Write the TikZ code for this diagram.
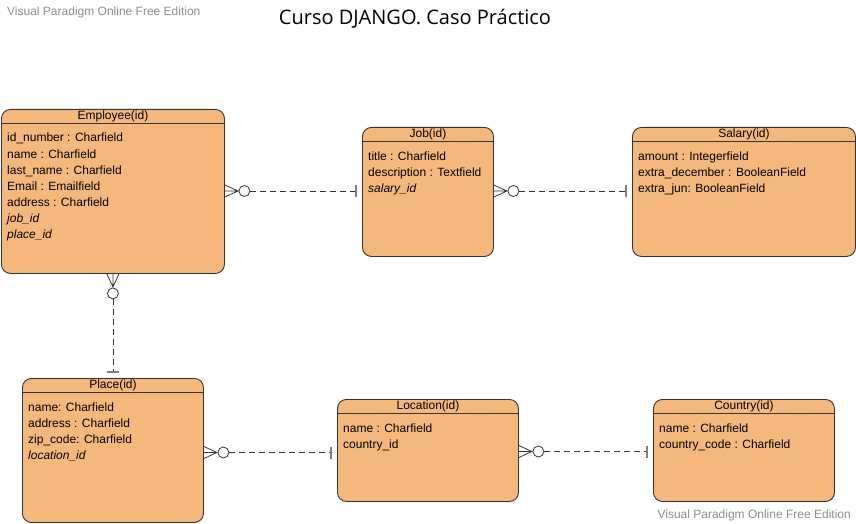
\documentclass[tikz,border=0pt]{standalone}
\usepackage{fontspec}
\setmainfont{Liberation Sans}
\newfontfamily\titlefont{Open Sans}
\usetikzlibrary{calc}

\definecolor{entfill}{RGB}{245,184,124}
\definecolor{linecol}{RGB}{51,51,51}
\definecolor{bargray}{RGB}{128,128,128}
\definecolor{markgray}{RGB}{140,140,140}

\newcommand{\erfont}{\fontsize{12}{14}\selectfont}
% fields of an entity, one per row
\newcommand{\entfields}[2]{%
  \foreach \t [count=\i] in {#2}
    \node[field] (#1f\i) at ([xshift=6pt,yshift={-(17+16*\i)}]#1.north west) {\t};}
% header band of an entity
\newcommand{\enthead}[2]{%
  \draw[linecol, line width=0.9pt] ([yshift=-14pt]#1.north west) -- ([yshift=-14pt]#1.north east);
  \node[head] (#1h) at ([yshift=-7.5pt]#1.north) {#2};}

\tikzset{
  entity/.style={draw=linecol, fill=entfill, line width=0.9pt, rounded corners=9pt,
    anchor=north west, inner sep=0pt},
  head/.style={font=\erfont, inner sep=0pt},
  field/.style={font=\erfont, anchor=base west, inner sep=0pt},
  rel/.style={draw=linecol, line width=0.8pt, dash pattern=on 6pt off 4pt},
  manyzero/.pic={
    \draw[linecol, line width=0.8pt] (0,-6) -- (13,0) -- (0,6) (0,0) -- (13,0);
    \draw[linecol, fill=white, line width=0.8pt] (19.5,0) circle[radius=5.5pt];},
  onebar/.pic={\draw[bargray, line width=1.6pt] (-6,-6) -- (-6,6);},
  watermark/.style={font=\erfont, text=markgray, inner sep=0pt}
}

\begin{document}
\begin{tikzpicture}[x=1pt, y=-1pt]
  \useasboundingbox (0,0) rectangle (856,524);

  \node[font=\titlefont\fontsize{20}{24}\selectfont, inner sep=0pt] (title) at (415,19) {Curso DJANGO. Caso Práctico};
  \node[watermark, anchor=base west] (wm1) at (7,16) {Visual Paradigm Online Free Edition};
  \node[watermark, anchor=base east] (wm2) at (851,518) {Visual Paradigm Online Free Edition};

  % entities
  \node[entity, minimum width=223pt, minimum height=164pt] (emp) at (1,109) {};
  \enthead{emp}{Employee(id)}
  \entfields{emp}{id\_number : Charfield, name : Charfield, last\_name : Charfield,
    Email : Emailfield, address : Charfield, \textit{job\_id}, \textit{place\_id}}

  \node[entity, minimum width=131pt, minimum height=129pt] (job) at (362,127) {};
  \enthead{job}{Job(id)}
  \entfields{job}{title : Charfield, description : Textfield, \textit{salary\_id}}

  \node[entity, minimum width=223pt, minimum height=129pt] (sal) at (632,127) {};
  \enthead{sal}{Salary(id)}
  \entfields{sal}{amount : Integerfield, extra\_december : BooleanField, extra\_jun: BooleanField}

  \node[entity, minimum width=181pt, minimum height=144pt] (place) at (22,378) {};
  \enthead{place}{Place(id)}
  \entfields{place}{name: Charfield, address : Charfield, zip\_code: Charfield, \textit{location\_id}}

  \node[entity, minimum width=181pt, minimum height=102pt] (loc) at (337,399) {};
  \enthead{loc}{Location(id)}
  \entfields{loc}{name : Charfield, country\_id}

  \node[entity, minimum width=181pt, minimum height=102pt] (ctry) at (653,399) {};
  \enthead{ctry}{Country(id)}
  \entfields{ctry}{name : Charfield, country\_code : Charfield}

  % relations
  \path (emp.east |- 0,191) coordinate (r1a) (job.west |- 0,191) coordinate (r1b);
  \draw[rel] ([xshift=25pt]r1a) -- ([xshift=-6pt]r1b);
  \pic at (r1a) {manyzero}; \pic at (r1b) {onebar};

  \path (job.east |- 0,191) coordinate (r2a) (sal.west |- 0,191) coordinate (r2b);
  \draw[rel] ([xshift=25pt]r2a) -- ([xshift=-6pt]r2b);
  \pic at (r2a) {manyzero}; \pic at (r2b) {onebar};

  \draw[rel] ([yshift=-25pt]emp.south) -- ([yshift=6pt]place.north);
  \pic[rotate=-90] at (emp.south) {manyzero}; \pic[rotate=-90] at (place.north) {onebar};

  \path (place.east |- 0,452.5) coordinate (r4a) (loc.west |- 0,452.5) coordinate (r4b);
  \draw[rel] ([xshift=25pt]r4a) -- ([xshift=-6pt]r4b);
  \pic at (r4a) {manyzero}; \pic at (r4b) {onebar};

  \path (loc.east |- 0,451.5) coordinate (r5a) (ctry.west |- 0,451.5) coordinate (r5b);
  \draw[rel] ([xshift=25pt]r5a) -- ([xshift=-6pt]r5b);
  \pic at (r5a) {manyzero}; \pic at (r5b) {onebar};
\end{tikzpicture}
\end{document}
